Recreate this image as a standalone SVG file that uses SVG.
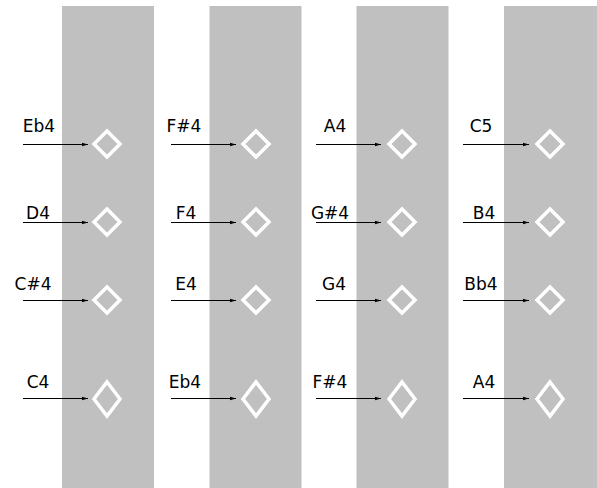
<svg xmlns="http://www.w3.org/2000/svg" width="597" height="488" viewBox="0 0 597 488">
<defs>
<style>
.col{fill:#c0c0c0}
.dia{fill:none;stroke:#ffffff;stroke-width:3.5}
.lbl{font-family:"DejaVu Sans",Verdana,sans-serif;font-size:17px;fill:#000;text-anchor:middle}
.arr{stroke:#000;stroke-width:1;fill:none;marker-end:url(#ah)}
</style>
<marker id="ah" viewBox="0 0 10 10" refX="10" refY="5" markerWidth="6" markerHeight="6" markerUnits="userSpaceOnUse" orient="auto"><path d="M0,2 L10,5 L0,8 Z" fill="#000"/></marker>
</defs>
<rect width="597" height="488" fill="#fff"/>
<g id="columns">
<rect class="col" x="62" y="6" width="92" height="482"/>
<rect class="col" x="209.5" y="6" width="92" height="482"/>
<rect class="col" x="356.5" y="6" width="92" height="482"/>
<rect class="col" x="504" y="6" width="93" height="482"/>
</g>
<g id="connectors">
<line class="arr" x1="23" y1="144.5" x2="88" y2="144.5"/>
<line class="arr" x1="171" y1="144.5" x2="236" y2="144.5"/>
<line class="arr" x1="316" y1="144.5" x2="381" y2="144.5"/>
<line class="arr" x1="463" y1="144.5" x2="529" y2="144.5"/>
<line class="arr" x1="23" y1="222.5" x2="88" y2="222.5"/>
<line class="arr" x1="171" y1="222.5" x2="236" y2="222.5"/>
<line class="arr" x1="316" y1="222.5" x2="381" y2="222.5"/>
<line class="arr" x1="463" y1="222.5" x2="529" y2="222.5"/>
<line class="arr" x1="23" y1="300.5" x2="88" y2="300.5"/>
<line class="arr" x1="171" y1="300.5" x2="236" y2="300.5"/>
<line class="arr" x1="316" y1="300.5" x2="381" y2="300.5"/>
<line class="arr" x1="463" y1="300.5" x2="529" y2="300.5"/>
<line class="arr" x1="23" y1="398.5" x2="88" y2="398.5"/>
<line class="arr" x1="171" y1="398.5" x2="236" y2="398.5"/>
<line class="arr" x1="316" y1="398.5" x2="381" y2="398.5"/>
<line class="arr" x1="463" y1="398.5" x2="529" y2="398.5"/>
</g>
<g id="n-eb4-1"><text class="lbl" x="39" y="132">Eb4</text><path class="dia" d="M107,131 L120,144 L107,157 L94,144 Z"/></g>
<g id="n-fs4-1"><text class="lbl" x="184" y="132">F#4</text><path class="dia" d="M256,131 L269,144 L256,157 L243,144 Z"/></g>
<g id="n-a4-1"><text class="lbl" x="335" y="132">A4</text><path class="dia" d="M402,131 L415,144 L402,157 L389,144 Z"/></g>
<g id="n-c5"><text class="lbl" x="481" y="132">C5</text><path class="dia" d="M550,131 L563,144 L550,157 L537,144 Z"/></g>
<g id="n-d4"><text class="lbl" x="38" y="219">D4</text><path class="dia" d="M107,209 L120,222 L107,235 L94,222 Z"/></g>
<g id="n-f4"><text class="lbl" x="186" y="219">F4</text><path class="dia" d="M256,209 L269,222 L256,235 L243,222 Z"/></g>
<g id="n-gs4"><text class="lbl" x="330" y="219">G#4</text><path class="dia" d="M402,209 L415,222 L402,235 L389,222 Z"/></g>
<g id="n-b4"><text class="lbl" x="484" y="219">B4</text><path class="dia" d="M550,209 L563,222 L550,235 L537,222 Z"/></g>
<g id="n-cs4"><text class="lbl" x="33" y="290">C#4</text><path class="dia" d="M107,287 L120,300 L107,313 L94,300 Z"/></g>
<g id="n-e4"><text class="lbl" x="186" y="290">E4</text><path class="dia" d="M256,287 L269,300 L256,313 L243,300 Z"/></g>
<g id="n-g4"><text class="lbl" x="334" y="290">G4</text><path class="dia" d="M402,287 L415,300 L402,313 L389,300 Z"/></g>
<g id="n-bb4"><text class="lbl" x="481" y="290">Bb4</text><path class="dia" d="M550,287 L563,300 L550,313 L537,300 Z"/></g>
<g id="n-c4"><text class="lbl" x="38" y="388">C4</text><path class="dia" d="M107,382 L120,399 L107,416 L94,399 Z"/></g>
<g id="n-eb4-2"><text class="lbl" x="185" y="388">Eb4</text><path class="dia" d="M256,382 L269,399 L256,416 L243,399 Z"/></g>
<g id="n-fs4-2"><text class="lbl" x="330" y="388">F#4</text><path class="dia" d="M402,382 L415,399 L402,416 L389,399 Z"/></g>
<g id="n-a4-2"><text class="lbl" x="484" y="388">A4</text><path class="dia" d="M550,382 L563,399 L550,416 L537,399 Z"/></g>
</svg>
